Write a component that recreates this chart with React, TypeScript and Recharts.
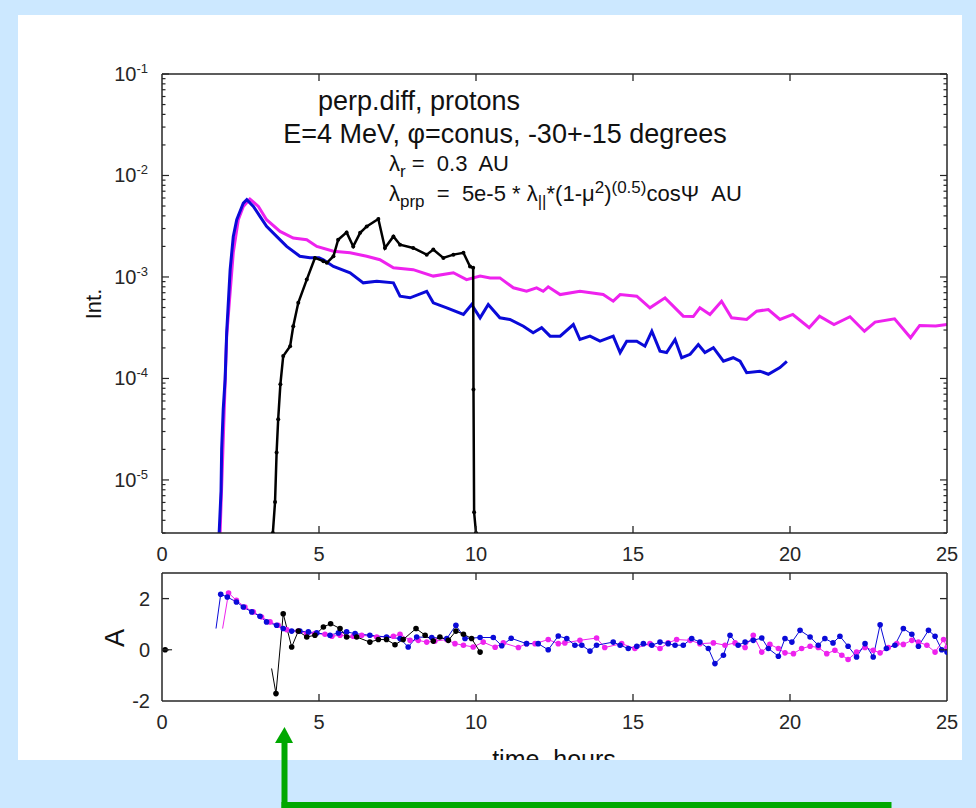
import React from "react";
import { LineChart, Line, XAxis, YAxis } from "recharts";

const BG = "#cce8ff";
const INK = "#262626";
const BLUE = "#0a0ad8";
const MAGENTA = "#ee22ee";
const BLACK = "#000000";
const GREEN = "#00a800";
const FONT = "'Liberation Sans', Arial, Helvetica, sans-serif";

// upper panel: Int. vs time (log scale)
const blueIntT = [1.82, 1.88, 1.9, 1.95, 2.01, 2.06, 2.17, 2.27, 2.38, 2.59, 2.7, 2.91, 3.12, 3.33, 3.65, 3.97, 4.39, 4.71, 5.0, 5.14, 5.46, 5.99, 6.41, 6.84, 7.37, 7.58, 7.9, 8.43, 8.64, 9.07, 9.6, 9.86, 10.13, 10.39, 10.76, 11.08, 11.51, 11.82, 12.09, 12.36, 12.68, 13.1, 13.31, 13.63, 13.95, 14.37, 14.59, 14.8, 15.12, 15.38, 15.6, 15.86, 16.07, 16.34, 16.55, 16.82, 17.08, 17.29, 17.56, 17.88, 18.19, 18.41, 18.62, 19.04, 19.31, 19.68, 19.9];
const blueIntV = [3e-6, 7.8e-6, 2.0e-5, 5.0e-5, 9.8e-5, 2.84e-4, 1.18e-3, 2.51e-3, 3.67e-3, 5.35e-3, 5.77e-3, 4.96e-3, 3.95e-3, 3.15e-3, 2.51e-3, 2.0e-3, 1.6e-3, 1.55e-3, 1.55e-3, 1.48e-3, 1.27e-3, 1.1e-3, 8.75e-4, 9.07e-4, 8.75e-4, 6.46e-4, 6.23e-4, 7.23e-4, 5.56e-4, 4.97e-4, 4.27e-4, 5.36e-4, 3.96e-4, 5.36e-4, 3.96e-4, 3.81e-4, 3.27e-4, 2.82e-4, 3.16e-4, 2.61e-4, 2.61e-4, 3.4e-4, 2.42e-4, 2.61e-4, 2.33e-4, 2.61e-4, 1.8e-4, 2.33e-4, 2.33e-4, 2.08e-4, 2.92e-4, 1.86e-4, 1.8e-4, 2.42e-4, 1.6e-4, 1.73e-4, 2.16e-4, 1.8e-4, 2.01e-4, 1.48e-4, 1.6e-4, 1.48e-4, 1.14e-4, 1.18e-4, 1.1e-4, 1.28e-4, 1.47e-4];

const magIntT = [1.85, 1.94, 2.06, 2.27, 2.43, 2.59, 2.8, 3.07, 3.33, 3.76, 4.18, 4.61, 4.93, 5.46, 5.99, 6.52, 6.94, 7.37, 8.0, 8.64, 9.28, 9.7, 10.13, 10.45, 10.76, 11.19, 11.61, 11.93, 12.14, 12.3, 12.68, 13.31, 14.05, 14.37, 14.59, 15.12, 15.54, 16.02, 16.6, 16.92, 17.13, 17.45, 17.82, 18.14, 18.62, 18.94, 19.31, 19.68, 20.09, 20.61, 20.94, 21.4, 21.91, 22.37, 22.71, 23.33, 23.84, 24.13, 24.64, 25.0];
const magIntV = [3e-6, 2.0e-5, 2.61e-4, 1.74e-3, 3.67e-3, 4.96e-3, 5.86e-3, 4.96e-3, 3.67e-3, 2.81e-3, 2.42e-3, 2.33e-3, 2.0e-3, 1.79e-3, 1.73e-3, 1.6e-3, 1.48e-3, 1.23e-3, 1.18e-3, 1.02e-3, 1.1e-3, 9.42e-4, 1.02e-3, 9.79e-4, 9.79e-4, 7.82e-4, 7.23e-4, 7.82e-4, 7.23e-4, 8.0e-4, 6.71e-4, 7.23e-4, 6.71e-4, 5.77e-4, 6.71e-4, 6.46e-4, 4.97e-4, 6.23e-4, 4.11e-4, 4.07e-4, 4.97e-4, 4.27e-4, 5.77e-4, 3.96e-4, 3.81e-4, 4.6e-4, 4.78e-4, 3.81e-4, 4.27e-4, 3.16e-4, 4.11e-4, 3.4e-4, 4.06e-4, 2.92e-4, 3.59e-4, 3.87e-4, 2.52e-4, 3.33e-4, 3.28e-4, 3.4e-4];

const blackIntT = [3.53, 3.6, 3.65, 3.7, 3.77, 3.86, 4.08, 4.18, 4.34, 4.61, 4.87, 5.14, 5.25, 5.46, 5.61, 5.88, 6.09, 6.31, 6.52, 6.89, 7.1, 7.37, 7.58, 8.0, 8.43, 8.64, 8.96, 9.28, 9.6, 9.81, 9.91, 9.92, 9.94, 10.0];
const blackIntV = [3e-6, 6.05e-6, 1.86e-5, 3.96e-5, 8.75e-5, 1.66e-4, 2.08e-4, 3.27e-4, 5.56e-4, 9.42e-4, 1.54e-3, 1.43e-3, 1.38e-3, 1.6e-3, 2.33e-3, 2.75e-3, 2.0e-3, 2.72e-3, 3.15e-3, 3.73e-3, 1.93e-3, 2.51e-3, 2.08e-3, 1.93e-3, 1.66e-3, 1.86e-3, 1.54e-3, 1.66e-3, 1.73e-3, 1.27e-3, 1.23e-3, 7.8e-5, 4.8e-6, 3e-6];

// lower panel: A vs time
const blueAT = [1.72, 1.87, 2.08, 2.37, 2.59, 2.86, 3.12, 3.33, 3.65, 3.86, 4.13, 4.39, 4.66, 4.93, 5.35, 5.62, 5.88, 6.15, 6.62, 7.15, 7.58, 7.84, 8.11, 8.59, 9.07, 9.36, 9.65, 10.13, 10.55, 10.82, 11.12, 11.61, 11.98, 12.3, 12.62, 12.89, 13.15, 13.37, 13.63, 13.84, 14.37, 14.59, 14.85, 15.12, 15.33, 15.6, 15.86, 16.12, 16.34, 16.6, 16.87, 17.13, 17.4, 17.61, 17.88, 18.09, 18.35, 18.57, 18.83, 19.1, 19.31, 19.63, 19.84, 20.06, 20.32, 20.64, 20.9, 21.11, 21.37, 21.59, 21.85, 22.12, 22.39, 22.65, 22.87, 23.07, 23.34, 23.61, 23.88, 24.09, 24.41, 24.62, 24.83, 25.0];
const blueAV = [0.83, 2.17, 2.06, 1.87, 1.67, 1.48, 1.31, 1.09, 0.96, 0.83, 0.73, 0.73, 0.7, 0.66, 0.57, 0.66, 0.7, 0.63, 0.57, 0.5, 0.44, 0.11, 0.5, 0.48, 0.44, 0.96, 0.44, 0.48, 0.48, 0.16, 0.45, 0.24, 0.24, 0.0, 0.54, 0.44, 0.18, 0.18, -0.05, 0.18, 0.3, 0.18, 0.05, 0.14, 0.24, 0.18, 0.3, 0.24, 0.18, 0.18, 0.44, 0.3, 0.05, -0.54, -0.21, 0.57, 0.18, 0.3, 0.37, 0.46, 0.05, -0.25, 0.44, 0.3, 0.76, 0.5, 0.18, 0.44, 0.27, 0.53, 0.14, -0.28, 0.24, -0.28, 0.98, 0.05, 0.18, 0.83, 0.61, 0.14, 0.76, 0.53, 0.0, -0.09];

const magAT = [1.93, 2.12, 2.37, 2.64, 2.91, 3.17, 3.44, 3.7, 3.97, 4.34, 4.61, 4.87, 5.19, 5.41, 5.67, 6.09, 6.36, 6.84, 7.37, 7.58, 7.9, 8.16, 8.43, 8.69, 9.07, 9.33, 9.6, 9.91, 10.23, 10.61, 10.87, 11.35, 11.61, 11.88, 12.3, 12.62, 12.83, 13.31, 13.84, 14.1, 14.64, 15.06, 15.54, 15.86, 16.12, 16.39, 16.82, 17.13, 17.56, 17.93, 18.25, 18.57, 18.83, 19.1, 19.36, 19.63, 19.84, 20.11, 20.37, 20.64, 20.9, 21.17, 21.43, 21.65, 21.85, 22.12, 22.39, 22.65, 22.87, 23.13, 23.4, 23.61, 23.88, 24.09, 24.36, 24.62, 24.89, 25.0];
const magAV = [0.83, 2.22, 1.93, 1.67, 1.48, 1.28, 1.09, 0.96, 0.79, 0.73, 0.63, 0.63, 0.61, 0.53, 0.57, 0.53, 0.57, 0.5, 0.53, 0.61, 0.37, 0.37, 0.3, 0.34, 0.4, 0.24, 0.18, 0.11, 0.3, 0.1, 0.27, 0.09, 0.24, 0.24, 0.4, 0.24, 0.27, 0.37, 0.46, 0.09, 0.24, 0.05, 0.24, 0.05, 0.27, 0.4, 0.37, 0.24, 0.27, 0.18, 0.27, 0.09, 0.57, -0.09, 0.21, 0.05, -0.12, -0.15, 0.05, 0.14, 0.09, -0.15, -0.02, -0.21, -0.38, -0.09, 0.09, -0.02, -0.12, 0.09, 0.24, 0.21, 0.37, 0.3, 0.18, -0.09, 0.4, 0.09];

const blackAT = [0.1, 0.32, 0.35, 3.49, 3.63, 3.86, 4.13, 4.34, 4.61, 4.87, 5.14, 5.37, 5.67, 5.88, 6.2, 6.62, 6.89, 7.15, 7.42, 7.68, 8.09, 8.38, 8.64, 8.85, 9.12, 9.36, 9.6, 9.86, 10.13];
const blackAV = [0.0, 0.0, null, -0.73, -1.71, 1.41, 0.11, 0.73, 0.5, 0.57, 0.89, 1.02, 0.83, 0.5, 0.5, 0.3, 0.4, 0.4, 0.2, 0.4, 0.83, 0.57, 0.34, 0.5, 0.37, 0.73, 0.61, 0.44, -0.09];

const xTicks = [0, 5, 10, 15, 20, 25];
const intDomain = [3e-6, 0.1];
const intTicks = [-6, -5, -4, -3, -2]
  .flatMap((e) => [1, 2, 3, 4, 5, 6, 7, 8, 9].map((k) => Number((k * Math.pow(10, e)).toPrecision(2))))
  .filter((v) => v >= intDomain[0])
  .concat([0.1]);
const aTicks = [-2, 0, 2];

const pairs = (ts: number[], vs: (number | null)[]) => ts.map((t, i) => ({ t, v: vs[i] }));

const isDecade = (v: number) => Math.abs(Math.log10(v) - Math.round(Math.log10(v))) < 1e-6;

// ticks drawn inward, MATLAB style
const bottomTick = (p: any) => {
  const { x, y, payload } = p;
  const v = payload.value;
  return (
    <g>
      {v > 0 && v < 25 && <line x1={x} x2={x} y1={y} y2={y - 7} stroke={INK} strokeWidth={1.3} />}
      <text x={x} y={y + 28} textAnchor="middle" fontSize={20} fill={INK} fontFamily={FONT}>
        {v}
      </text>
    </g>
  );
};

const topTick = (p: any) => {
  const { x, y, payload } = p;
  const v = payload.value;
  if (v <= 0 || v >= 25) return <g />;
  return <line x1={x} x2={x} y1={y} y2={y + 7} stroke={INK} strokeWidth={1.3} />;
};

const logTick = (side: "left" | "right") => (p: any) => {
  const { x, y, payload } = p;
  const v = payload.value;
  const major = isDecade(v);
  const len = major ? 7 : 3.5;
  const dir = side === "left" ? 1 : -1;
  return (
    <g>
      <line x1={x} x2={x + dir * len} y1={y} y2={y} stroke={INK} strokeWidth={1.2} />
      {side === "left" && major && (
        <text x={x - 14} y={y + 7} textAnchor="end" fontSize={20} fill={INK} fontFamily={FONT}>
          10
          <tspan dy={-8} fontSize={13}>
            {String(Math.round(Math.log10(v)))}
          </tspan>
        </text>
      )}
    </g>
  );
};

const linTick = (side: "left" | "right") => (p: any) => {
  const { x, y, payload } = p;
  const v = payload.value;
  const dir = side === "left" ? 1 : -1;
  return (
    <g>
      {v > -2 && <line x1={x} x2={x + dir * 7} y1={y} y2={y} stroke={INK} strokeWidth={1.3} />}
      {side === "left" && (
        <text x={x - 12} y={y + 7} textAnchor="end" fontSize={20} fill={INK} fontFamily={FONT}>
          {v}
        </text>
      )}
    </g>
  );
};

// markers, except where a trace just begins (no marker there in the figure)
const markers = (c: string, skip: number[]) => (p: any) => {
  const { cx, cy, index, value } = p;
  if (skip.includes(index) || value == null || cx == null || cy == null) return <g key={`d${index}`} />;
  return <circle key={`d${index}`} cx={cx} cy={cy} r={2.8} fill={c} />;
};

const axisLine = { stroke: INK, strokeWidth: 1.5 };

function IntensityPanel() {
  return (
    <LineChart width={976} height={570} margin={{ top: 64, right: 19, bottom: 7, left: 82 }}>
      <XAxis xAxisId="b" type="number" dataKey="t" domain={[0, 25]} ticks={xTicks} interval={0}
        allowDataOverflow height={30} tickSize={0} tickMargin={0} tickLine={false}
        axisLine={axisLine} tick={bottomTick} />
      <XAxis xAxisId="top" orientation="top" type="number" dataKey="t" domain={[0, 25]} ticks={xTicks} interval={0}
        allowDataOverflow height={10} tickSize={0} tickMargin={0} tickLine={false}
        axisLine={axisLine} tick={topTick} />
      <YAxis yAxisId="l" scale="log" type="number" domain={intDomain} ticks={intTicks} interval={0}
        allowDataOverflow width={80} tickSize={0} tickMargin={0} tickLine={false}
        axisLine={axisLine} tick={logTick("left")} />
      <YAxis yAxisId="r" orientation="right" scale="log" type="number" domain={intDomain} ticks={intTicks} interval={0}
        allowDataOverflow width={10} tickSize={0} tickMargin={0} tickLine={false}
        axisLine={axisLine} tick={logTick("right")} />
      <Line xAxisId="b" yAxisId="l" data={pairs(magIntT, magIntV)} dataKey="v" stroke={MAGENTA}
        strokeWidth={3} dot={false} activeDot={false} isAnimationActive={false} type="linear" />
      <Line xAxisId="b" yAxisId="l" data={pairs(blueIntT, blueIntV)} dataKey="v" stroke={BLUE}
        strokeWidth={3} dot={false} activeDot={false} isAnimationActive={false} type="linear" />
      <Line xAxisId="b" yAxisId="l" data={pairs(blackIntT, blackIntV)} dataKey="v" stroke={BLACK}
        strokeWidth={2.5} dot={{ r: 2, fill: BLACK, stroke: BLACK, strokeWidth: 0 }} activeDot={false}
        isAnimationActive={false} type="linear" />
    </LineChart>
  );
}

function AnisoPanel() {
  return (
    <LineChart width={976} height={200} margin={{ top: 3, right: 19, bottom: 29, left: 82 }}>
      <XAxis xAxisId="b" type="number" dataKey="t" domain={[0, 25]} ticks={xTicks} interval={0}
        allowDataOverflow height={30} tickSize={0} tickMargin={0} tickLine={false}
        axisLine={axisLine} tick={bottomTick} />
      <XAxis xAxisId="top" orientation="top" type="number" dataKey="t" domain={[0, 25]} ticks={xTicks} interval={0}
        allowDataOverflow height={10} tickSize={0} tickMargin={0} tickLine={false}
        axisLine={axisLine} tick={topTick} />
      <YAxis yAxisId="l" type="number" domain={[-2, 3]} ticks={aTicks} interval={0}
        allowDataOverflow width={80} tickSize={0} tickMargin={0} tickLine={false}
        axisLine={axisLine} tick={linTick("left")} />
      <YAxis yAxisId="r" orientation="right" type="number" domain={[-2, 3]} ticks={aTicks} interval={0}
        allowDataOverflow width={10} tickSize={0} tickMargin={0} tickLine={false}
        axisLine={axisLine} tick={linTick("right")} />
      <Line xAxisId="b" yAxisId="l" data={pairs(magAT, magAV)} dataKey="v" stroke={MAGENTA}
        strokeWidth={1} dot={markers(MAGENTA, [0])} activeDot={false} isAnimationActive={false} type="linear" />
      <Line xAxisId="b" yAxisId="l" data={pairs(blueAT, blueAV)} dataKey="v" stroke={BLUE}
        strokeWidth={1} dot={markers(BLUE, [0])} activeDot={false} isAnimationActive={false} type="linear" />
      <Line xAxisId="b" yAxisId="l" data={pairs(blackAT, blackAV)} dataKey="v" stroke={BLACK}
        strokeWidth={1} dot={markers(BLACK, [1, 3])} activeDot={false} isAnimationActive={false} type="linear" />
    </LineChart>
  );
}

export default function App() {
  return (
    <div style={{ position: "absolute", left: 0, top: 0, width: 976, height: 808, background: BG, overflow: "hidden", fontFamily: FONT }}>
      <div style={{ position: "absolute", left: 18, top: 15, width: 944, height: 745, background: "#ffffff" }} />
      <div style={{ position: "absolute", left: 0, top: 0 }}>
        <IntensityPanel />
      </div>
      <div style={{ position: "absolute", left: 0, top: 560 }}>
        <AnisoPanel />
      </div>
      <svg width={976} height={808} style={{ position: "absolute", left: 0, top: 0 }} fontFamily={FONT}>
        <g fill="#111">
          <text x={419} y={110} fontSize={27} textAnchor="middle">perp.diff, protons</text>
          <text x={505} y={143} fontSize={27} textAnchor="middle">E=4 MeV, φ=conus, -30+-15 degrees</text>
          <text x={389} y={171} fontSize={22}>
            λ<tspan dy={6} fontSize={17}>r</tspan>
            <tspan dy={-6} xmlSpace="preserve">{" =  0.3  AU"}</tspan>
          </text>
          <text x={389} y={201} fontSize={22}>
            λ<tspan dy={6} fontSize={17}>prp</tspan>
            <tspan dy={-6} xmlSpace="preserve">{"  =  5e-5 * λ"}</tspan>
            <tspan dy={6} fontSize={17}>||</tspan>
            <tspan dy={-6}>{"*(1-μ"}</tspan>
            <tspan dy={-8} fontSize={17}>2</tspan>
            <tspan dy={8}>)</tspan>
            <tspan dy={-8} fontSize={17}>(0.5)</tspan>
            <tspan dy={8} xmlSpace="preserve">{"cosΨ  AU"}</tspan>
          </text>
          <text transform="translate(93,304) rotate(-90)" textAnchor="middle" dy="0.35em" fontSize={22}>Int.</text>
          <text transform="translate(115,638) rotate(-90)" textAnchor="middle" dy="0.35em" fontSize={27}>A</text>
          <text x={554} y={768} textAnchor="middle" fontSize={25}>time, hours</text>
        </g>
        <rect x={0} y={760} width={976} height={48} fill={BG} />
        <g fill={GREEN} stroke="none">
          <rect x={281.5} y={740} width={6} height={68} />
          <rect x={281.5} y={802} width={610} height={6} />
          <polygon points="275,743 293,743 284.5,727" />
        </g>
      </svg>
    </div>
  );
}
